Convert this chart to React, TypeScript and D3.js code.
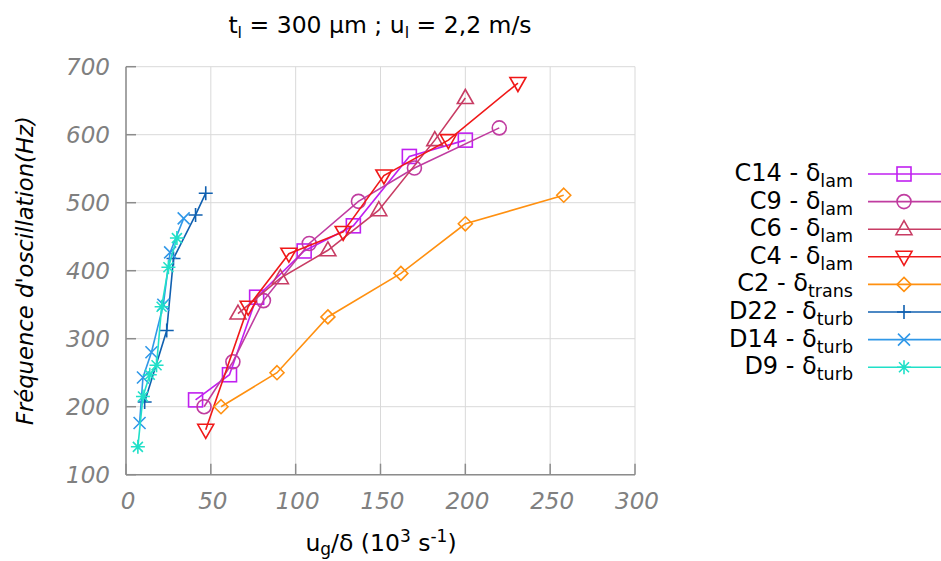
import React from "react";
import * as d3 from "d3";

const xTicks = [0, 50, 100, 150, 200, 250, 300];
const yTicks = [100, 200, 300, 400, 500, 600, 700];

const c14X = [41, 61, 77, 105, 134, 167, 200];
const c14Y = [210, 247, 361, 429, 466, 568, 592];
const c9X = [46, 63, 81, 108, 137, 170, 220];
const c9Y = [200, 266, 356, 440, 502, 551, 610];
const c6X = [66, 91, 119, 149, 182, 200];
const c6Y = [337, 389, 430, 489, 592, 654];
const c4X = [47, 72, 96, 128, 152, 190, 231];
const c4Y = [166, 347, 425, 457, 540, 592, 676];
const c2X = [56, 89, 119, 162, 200, 258];
const c2Y = [200, 250, 332, 396, 469, 511];
const d22X = [11, 24, 28, 41, 47];
const d22Y = [207, 312, 418, 482, 514];
const d14X = [8, 10, 15, 22, 26, 34];
const d14Y = [176, 243, 280, 350, 427, 477];
const d9X = [7, 10, 14, 18, 21, 25, 30];
const d9Y = [141, 215, 247, 261, 347, 405, 448];

const seriesNames = ["C14", "C9", "C6", "C4", "C2", "D22", "D14", "D9"];
const seriesSubs = ["lam", "lam", "lam", "lam", "trans", "turb", "turb", "turb"];

type Series = { name: string; sub: string; xs: number[]; ys: number[]; color: string; marker: string };

const series: Series[] = [
  { name: seriesNames[0], sub: seriesSubs[0], xs: c14X, ys: c14Y, color: "#c020f0", marker: "square" },
  { name: seriesNames[1], sub: seriesSubs[1], xs: c9X, ys: c9Y, color: "#c03ca0", marker: "circle" },
  { name: seriesNames[2], sub: seriesSubs[2], xs: c6X, ys: c6Y, color: "#c83c64", marker: "tri" },
  { name: seriesNames[3], sub: seriesSubs[3], xs: c4X, ys: c4Y, color: "#f01818", marker: "tridown" },
  { name: seriesNames[4], sub: seriesSubs[4], xs: c2X, ys: c2Y, color: "#ff9010", marker: "diamond" },
  { name: seriesNames[5], sub: seriesSubs[5], xs: d22X, ys: d22Y, color: "#1060b0", marker: "plus" },
  { name: seriesNames[6], sub: seriesSubs[6], xs: d14X, ys: d14Y, color: "#3098e8", marker: "cross" },
  { name: seriesNames[7], sub: seriesSubs[7], xs: d9X, ys: d9Y, color: "#20e0c8", marker: "star" },
];

const FONT = "DejaVu Sans, sans-serif";

function Marker({ type, x, y, color }: { type: string; x: number; y: number; color: string }) {
  const s = 7;
  const common = { fill: "none", stroke: color, strokeWidth: 1.6 };
  switch (type) {
    case "square":
      return <rect x={x - s} y={y - s} width={2 * s} height={2 * s} {...common} />;
    case "circle":
      return <circle cx={x} cy={y} r={s} {...common} />;
    case "tri":
      return <path d={`M${x},${y - 8.5}L${x + 8},${y + 5.5}L${x - 8},${y + 5.5}Z`} {...common} />;
    case "tridown":
      return <path d={`M${x},${y + 8.5}L${x + 8},${y - 5.5}L${x - 8},${y - 5.5}Z`} {...common} />;
    case "diamond":
      return <path d={`M${x},${y - 7}L${x + 7},${y}L${x},${y + 7}L${x - 7},${y}Z`} {...common} />;
    case "plus":
      return <path d={`M${x - 7},${y}H${x + 7}M${x},${y - 7}V${y + 7}`} {...common} />;
    case "cross":
      return <path d={`M${x - 6},${y - 6}L${x + 6},${y + 6}M${x - 6},${y + 6}L${x + 6},${y - 6}`} {...common} />;
    case "star":
      return (
        <path
          d={`M${x - 7},${y}H${x + 7}M${x},${y - 7}V${y + 7}M${x - 5},${y - 5}L${x + 5},${y + 5}M${x - 5},${y + 5}L${x + 5},${y - 5}`}
          {...common}
        />
      );
  }
  return null;
}

export default function App() {
  const W = 941;
  const H = 561;
  const left = 126, right = 635, top = 66.7, bottom = 474.7;
  const x = d3.scaleLinear().domain([0, 300]).range([left, right]);
  const y = d3.scaleLinear().domain([100, 700]).range([bottom, top]);
  const line = d3
    .line<[number, number]>()
    .x((d) => x(d[0]))
    .y((d) => y(d[1]));

  const legendY0 = 174;
  const legendDy = 27.6;

  return (
    <svg width={W} height={H} style={{ position: "absolute", left: 0, top: 0, background: "#fff" }} fontFamily={FONT}>
      <rect x={0} y={0} width={W} height={H} fill="#fff" />
      {/* grid */}
      {xTicks.map((t) => (
        <line key={"gx" + t} x1={x(t)} x2={x(t)} y1={top} y2={bottom} stroke="#d9d9d9" strokeWidth={1} />
      ))}
      {yTicks.map((t) => (
        <line key={"gy" + t} x1={left} x2={right} y1={y(t)} y2={y(t)} stroke="#d9d9d9" strokeWidth={1} />
      ))}
      {/* axes */}
      <line x1={left} x2={left} y1={top} y2={bottom} stroke="#8c8c8c" strokeWidth={1.5} />
      <line x1={left} x2={right} y1={bottom} y2={bottom} stroke="#8c8c8c" strokeWidth={1.5} />
      {yTicks.map((t) => (
        <g key={"ty" + t}>
          <line x1={left} x2={left + 10} y1={y(t)} y2={y(t)} stroke="#8c8c8c" strokeWidth={1.5} />
          <text x={110} y={y(t) + 8} textAnchor="end" fontSize={23} fontStyle="italic" fill="#808080">
            {t}
          </text>
        </g>
      ))}
      {xTicks.map((t) => (
        <g key={"tx" + t}>
          <line x1={x(t)} x2={x(t)} y1={bottom} y2={bottom - 11} stroke="#8c8c8c" strokeWidth={1.5} />
          <text x={x(t) + 2} y={509} textAnchor="middle" fontSize={23} fontStyle="italic" fill="#808080">
            {t}
          </text>
        </g>
      ))}
      {/* series */}
      {series.map((s) => {
        const pts: [number, number][] = s.xs.map((v, i) => [v, s.ys[i]]);
        return (
          <g key={s.name}>
            <path d={line(pts) || ""} fill="none" stroke={s.color} strokeWidth={1.6} />
            {pts.map((p, i) => (
              <Marker key={i} type={s.marker} x={x(p[0])} y={y(p[1])} color={s.color} />
            ))}
          </g>
        );
      })}
      {/* title */}
      <text x={380} y={33} textAnchor="middle" fontSize={23.5} fill="#000">
        t<tspan fontSize={16} dy={5}>l</tspan>
        <tspan dy={-5}> = 300 µm ; u</tspan>
        <tspan fontSize={16} dy={5}>l</tspan>
        <tspan dy={-5}> = 2,2 m/s</tspan>
      </text>
      {/* x label */}
      <text x={381} y={551} textAnchor="middle" fontSize={23.5} fill="#000">
        u<tspan fontSize={17} dy={4}>g</tspan>
        <tspan dy={-4}>/δ (10</tspan>
        <tspan fontSize={17} dy={-9}>3</tspan>
        <tspan dy={9}> s</tspan>
        <tspan fontSize={17} dy={-9}>-1</tspan>
        <tspan dy={9}>)</tspan>
      </text>
      {/* y label */}
      <text
        transform={`translate(33,${(top + bottom) / 2}) rotate(-90)`}
        textAnchor="middle"
        fontSize={22.7}
        fontStyle="italic"
        fill="#000"
      >
        Fréquence d'oscillation(Hz)
      </text>
      {/* legend */}
      {series.map((s, i) => {
        const ly = legendY0 + i * legendDy;
        return (
          <g key={"lg" + s.name}>
            <text x={853} y={ly + 7} textAnchor="end" fontSize={24} fill="#000">
              {s.name} - δ<tspan fontSize={17.5} dy={6}>{s.sub}</tspan>
            </text>
            <line x1={868} x2={941} y1={ly} y2={ly} stroke={s.color} strokeWidth={1.6} />
            <Marker type={s.marker} x={904} y={ly} color={s.color} />
          </g>
        );
      })}
    </svg>
  );
}
